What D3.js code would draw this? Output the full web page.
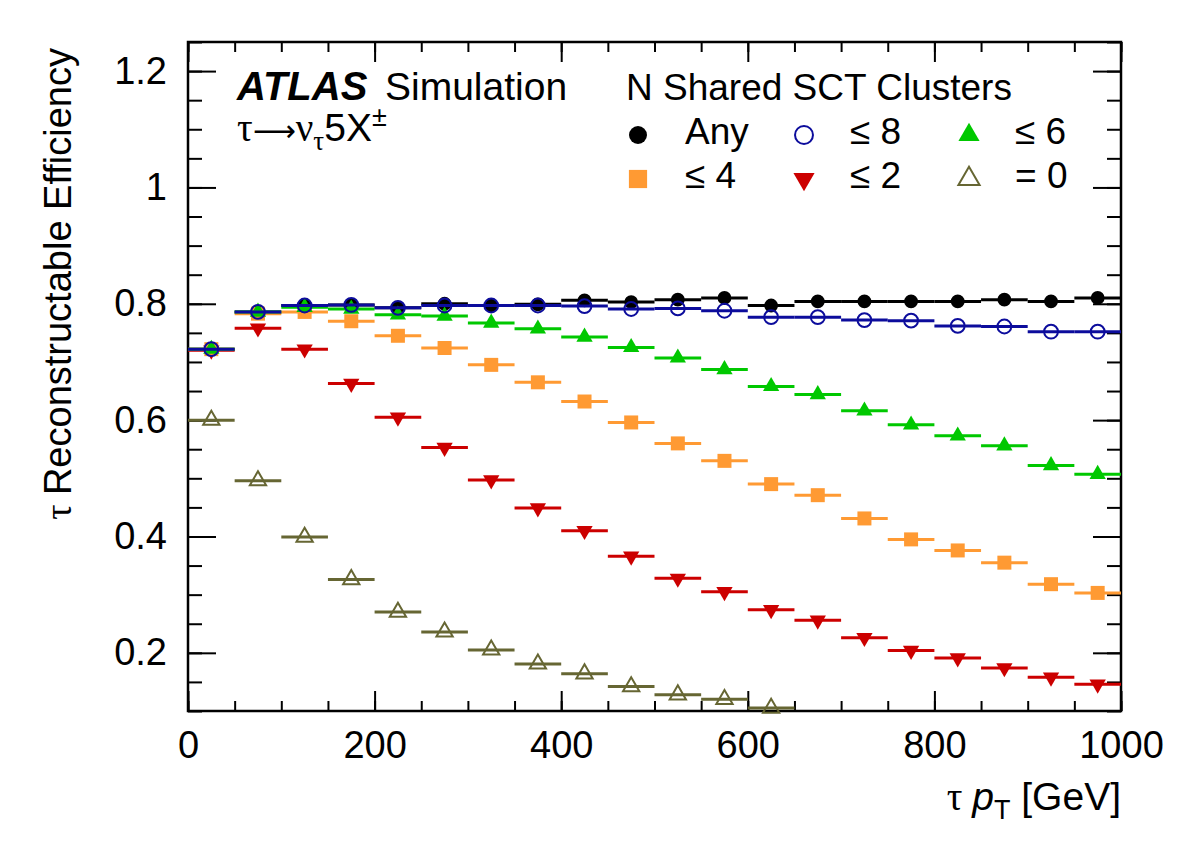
<!DOCTYPE html>
<html lang="en">
<head>
<meta charset="UTF-8">
<title>Tau reconstructable efficiency vs pT</title>
<script src="https://d3js.org/d3.v7.min.js"></script>
<style>
    body { margin: 0; background: #fff; }
    svg { display: block; font-family: "Liberation Sans", Arial, Helvetica, sans-serif; }
    .axis .domain { display: none; }
    .axis line { stroke: #000; stroke-width: 2; }
    .axis text { font-size: 38px; fill: #000; font-family: "Liberation Sans", Arial, sans-serif; }
    .serif { font-family: "Liberation Serif", "DejaVu Serif", serif; }
</style>
</head>
<body>
<div id="container"></div>
<script>
// bin centres in GeV (bins are 50 GeV wide)
const binCenters = [25, 75, 125, 175, 225, 275, 325, 375, 425, 475,
                    525, 575, 625, 675, 725, 775, 825, 875, 925, 975];
const binWidth = 50;

// efficiency for each cut on the number of shared SCT clusters
const effAny = [0.722, 0.786, 0.797, 0.798, 0.793, 0.800, 0.797, 0.799, 0.806, 0.803,
                0.807, 0.810, 0.797, 0.804, 0.804, 0.804, 0.804, 0.807, 0.804, 0.810];
const effLe8 = [0.722, 0.786, 0.797, 0.798, 0.793, 0.797, 0.797, 0.797, 0.796, 0.791,
                0.792, 0.788, 0.777, 0.777, 0.772, 0.771, 0.762, 0.761, 0.752, 0.752];
const effLe6 = [0.722, 0.786, 0.794, 0.791, 0.781, 0.779, 0.767, 0.757, 0.743, 0.725,
                0.707, 0.687, 0.658, 0.644, 0.616, 0.592, 0.573, 0.556, 0.522, 0.507];
const effLe4 = [0.722, 0.783, 0.786, 0.770, 0.745, 0.724, 0.695, 0.665, 0.632, 0.596,
                0.560, 0.530, 0.490, 0.471, 0.431, 0.395, 0.376, 0.355, 0.318, 0.303];
const effLe2 = [0.720, 0.758, 0.722, 0.663, 0.605, 0.553, 0.497, 0.449, 0.410, 0.366,
                0.328, 0.305, 0.274, 0.256, 0.226, 0.204, 0.191, 0.174, 0.158, 0.146];
const effEq0 = [0.600, 0.496, 0.399, 0.326, 0.270, 0.236, 0.205, 0.181, 0.164, 0.142,
                0.128, 0.120, 0.105];

// tick labels
const xTickValues = [0, 200, 400, 600, 800, 1000];
const yTickValues = [0.2, 0.4, 0.6, 0.8, 1, 1.2];

const legendLabels = ["Any", "\u2264 8", "\u2264 6", "\u2264 4", "\u2264 2", "= 0"];

// series in drawing order
const series = [
    { name: legendLabels[0], values: effAny, color: "#000000", shape: "circle", open: false },
    { name: legendLabels[5], values: effEq0, color: "#666633", shape: "triUp", open: true },
    { name: legendLabels[4], values: effLe2, color: "#cc0000", shape: "triDown", open: false },
    { name: legendLabels[3], values: effLe4, color: "#ff9a33", shape: "square", open: false },
    { name: legendLabels[2], values: effLe6, color: "#00c800", shape: "triUp", open: false },
    { name: legendLabels[1], values: effLe8, color: "#0c0c9c", shape: "circle", open: true }
];

const width = 1182, height = 848;
const plotLeft = 188, plotRight = 1121, plotTop = 42, plotBottom = 711;

const svg = d3.select('#container').append('svg')
    .attr('width', width)
    .attr('height', height);

const x = d3.scaleLinear().domain([0, 1000]).range([plotLeft, plotRight]);
const y = d3.scaleLinear().domain([0.1, 1.25]).range([plotBottom, plotTop]);

// marker path generator
function markerPath(shape, scale) {
    const s = scale || 1;
    if (shape === "circle") return d3.symbol(d3.symbolCircle, 150 * s * s)();
    if (shape === "square") return d3.symbol(d3.symbolSquare, 196 * s * s)();
    return d3.symbol(d3.symbolTriangle, 115 * s * s)();
}
function markerRotate(shape) { return shape === "triDown" ? " rotate(180)" : ""; }

// minor ticks
const xMinor = d3.range(0, 1001, 50);
const yMinor = d3.range(0.1, 1.26, 0.05);
svg.append('g').attr('class', 'axis')
    .attr('transform', `translate(0,${plotBottom})`)
    .call(d3.axisBottom(x).tickValues(xMinor).tickSize(-10).tickFormat(""));
svg.append('g').attr('class', 'axis')
    .attr('transform', `translate(0,${plotTop})`)
    .call(d3.axisTop(x).tickValues(xMinor).tickSize(-10).tickFormat(""));
svg.append('g').attr('class', 'axis')
    .attr('transform', `translate(${plotLeft},0)`)
    .call(d3.axisLeft(y).tickValues(yMinor).tickSize(-14).tickFormat(""));
svg.append('g').attr('class', 'axis')
    .attr('transform', `translate(${plotRight},0)`)
    .call(d3.axisRight(y).tickValues(yMinor).tickSize(-14).tickFormat(""));

// major ticks + labels
svg.append('g').attr('class', 'axis')
    .attr('transform', `translate(0,${plotBottom})`)
    .call(d3.axisBottom(x).tickValues(xTickValues).tickSize(-20).tickPadding(20).tickFormat(d3.format("d")));
svg.append('g').attr('class', 'axis')
    .attr('transform', `translate(0,${plotTop})`)
    .call(d3.axisTop(x).tickValues(xTickValues).tickSize(-20).tickFormat(""));
svg.append('g').attr('class', 'axis')
    .attr('transform', `translate(${plotLeft},0)`)
    .call(d3.axisLeft(y).tickValues(yTickValues).tickSize(-28).tickPadding(21).tickFormat(d3.format("~g")));
svg.append('g').attr('class', 'axis')
    .attr('transform', `translate(${plotRight},0)`)
    .call(d3.axisRight(y).tickValues(yTickValues).tickSize(-28).tickFormat(""));

// frame
svg.append('rect')
    .attr('x', plotLeft).attr('y', plotTop)
    .attr('width', plotRight - plotLeft).attr('height', plotBottom - plotTop)
    .attr('fill', 'none').attr('stroke', '#000').attr('stroke-width', 2.5);

// data: horizontal bin bars then markers, per series (open markers are hollow)
series.forEach(function(s) {
    const pts = s.values.map((v, i) => ({ c: binCenters[i], v: v }));
    const g = svg.append('g');
    g.selectAll('line')
        .data(pts).enter()
        .append('line')
        .attr('x1', d => x(d.c - binWidth / 2))
        .attr('x2', d => x(d.c + binWidth / 2))
        .attr('y1', d => y(d.v))
        .attr('y2', d => y(d.v))
        .attr('stroke', s.color)
        .attr('stroke-width', 3);
    g.selectAll('path')
        .data(pts).enter()
        .append('path')
        .attr('d', markerPath(s.shape))
        .attr('transform', d => `translate(${x(d.c)},${y(d.v)})` + markerRotate(s.shape))
        .attr('fill', s.open ? 'none' : s.color)
        .attr('stroke', s.open ? s.color : 'none')
        .attr('stroke-width', 2);
});

// ATLAS label
svg.append('text')
    .attr('x', 237).attr('y', 100)
    .attr('font-size', 40).attr('font-weight', 'bold').attr('font-style', 'italic')
    .text('ATLAS');
svg.append('text')
    .attr('x', 385).attr('y', 100)
    .attr('font-size', 39)
    .text('Simulation');

const decay = svg.append('text').attr('x', 237).attr('y', 141).attr('font-size', 39);
decay.append('tspan').attr('class', 'serif').text('\u03c4');
decay.append('tspan').attr('font-family', 'DejaVu Sans').attr('font-size', 30).text('\u27f6');
decay.append('tspan').attr('class', 'serif').text('\u03bd');
decay.append('tspan').attr('class', 'serif').attr('font-size', 27).attr('dy', 9).text('\u03c4');
decay.append('tspan').attr('dy', -9).text('5X');
decay.append('tspan').attr('font-size', 27).attr('dy', -15).text('\u00b1');

// legend
svg.append('text')
    .attr('x', 626).attr('y', 100)
    .attr('font-size', 37)
    .text('N Shared SCT Clusters');

const legendItems = [
    { s: series[0], col: 0, row: 0 },
    { s: series[5], col: 1, row: 0 },
    { s: series[4], col: 2, row: 0 },
    { s: series[3], col: 0, row: 1 },
    { s: series[2], col: 1, row: 1 },
    { s: series[1], col: 2, row: 1 }
];
const legendMarkerX = [638, 804, 969];
const legendTextX = [685, 850, 1015];
const legendRowY = [135, 179];

const leg = svg.selectAll('.legend')
    .data(legendItems).enter()
    .append('g').attr('class', 'legend');
leg.append('path')
    .attr('d', d => markerPath(d.s.shape, 1.3))
    .attr('transform', d => `translate(${legendMarkerX[d.col]},${legendRowY[d.row]})` + markerRotate(d.s.shape))
    .attr('fill', d => d.s.open ? 'none' : d.s.color)
    .attr('stroke', d => d.s.open ? d.s.color : 'none')
    .attr('stroke-width', 2);
leg.append('text')
    .attr('x', d => legendTextX[d.col])
    .attr('y', d => legendRowY[d.row] + 9)
    .attr('font-size', 37)
    .text(d => d.s.name);

// axis titles
const xTitle = svg.append('text')
    .attr('x', plotRight).attr('y', 810)
    .attr('text-anchor', 'end')
    .attr('font-size', 39);
xTitle.append('tspan').attr('class', 'serif').text('\u03c4 ');
xTitle.append('tspan').attr('font-style', 'italic').text('p');
xTitle.append('tspan').attr('font-size', 27).attr('dy', 9).text('T');
xTitle.append('tspan').attr('dy', -9).text(' [GeV]');

const yTitle = svg.append('text')
    .attr('transform', 'translate(71,48) rotate(-90)')
    .attr('text-anchor', 'end')
    .attr('font-size', 38);
yTitle.append('tspan').attr('class', 'serif').text('\u03c4 ');
yTitle.append('tspan').text('Reconstructable Efficiency');
</script>
</body>
</html>
